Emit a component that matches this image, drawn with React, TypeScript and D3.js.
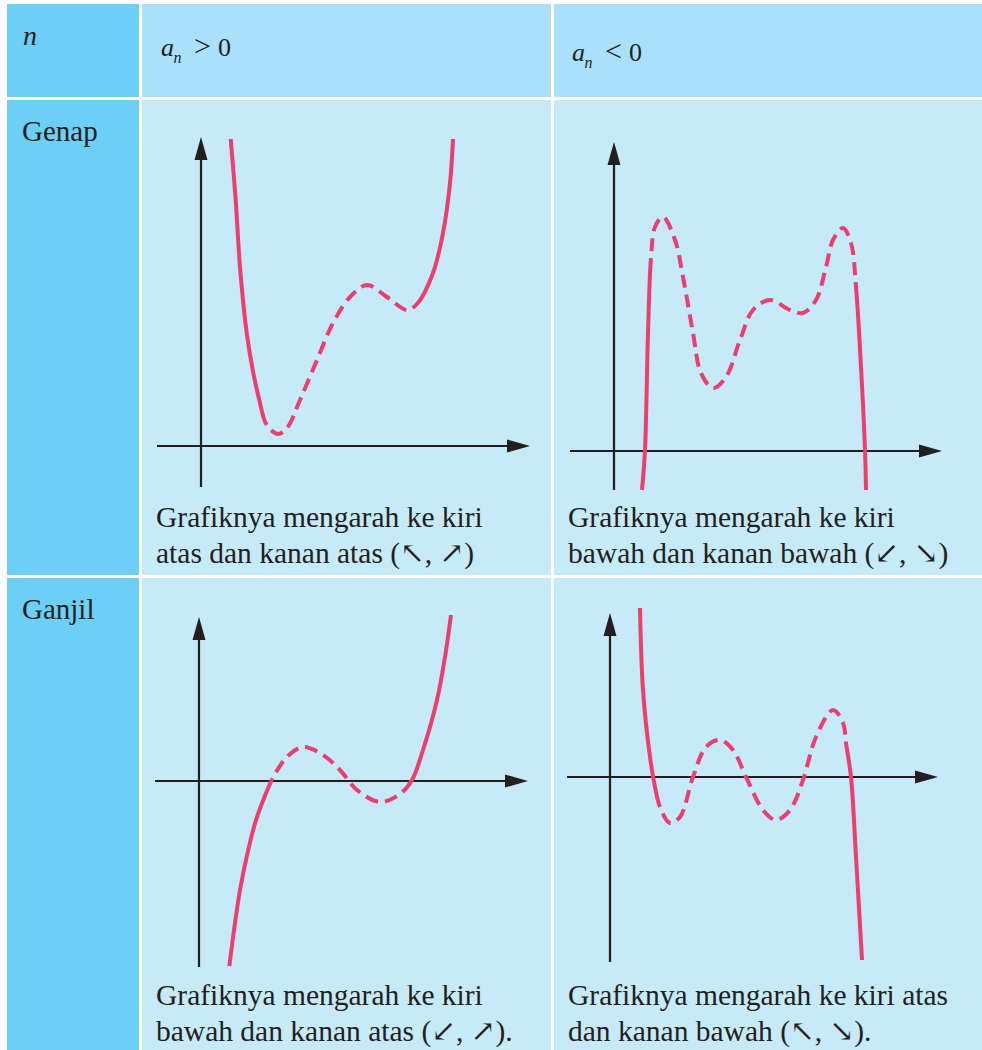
import React, { useEffect, useRef } from 'react';
import * as d3 from 'd3';

type Pt = [number, number];

// ---- table text ----
const rowLabels = ['Genap', 'Ganjil'];
const headerRel = ['>', '<'];
const captions: string[][] = [
  ['Grafiknya mengarah ke kiri', 'atas dan kanan atas (↖, ↗)'],
  ['Grafiknya mengarah ke kiri', 'bawah dan kanan bawah (↙, ↘)'],
  ['Grafiknya mengarah ke kiri', 'bawah dan kanan atas (↙, ↗).'],
  ['Grafiknya mengarah ke kiri atas', 'dan kanan bawah (↖, ↘).'],
];

// ---- curve data (units from the axes origin) ----
// even degree, a_n > 0
const evenPosSolidA: Pt[] = [[2.97, 30.7], [3.47, 24.6], [3.9, 17.9], [4.57, 11.3], [5.23, 7.3], [5.83, 4.6], [6.57, 2.1]];
const evenPosDashed: Pt[] = [[6.57, 2.1], [7.7, 1.2], [8.6, 1.8], [9.9, 4.6], [11.6, 8.6], [13.2, 12.3], [14.9, 14.9], [16.6, 16.1], [18.6, 14.9], [20.6, 13.6], [21.6, 14.2]];
const evenPosSolidB: Pt[] = [[21.6, 14.2], [23.2, 17.3], [24.2, 21.3], [24.9, 26.3], [25.2, 30.7]];

// even degree, a_n < 0
const evenNegSolidA: Pt[] = [[2.8, -3.9], [3.1, 0.1], [3.4, 11.8], [3.7, 19.3]];
const evenNegDashed: Pt[] = [[3.7, 19.3], [4.1, 22.4], [4.9, 23.4], [6.1, 21.1], [6.9, 17.4], [7.9, 11.8], [8.7, 7.8], [9.9, 6.3], [11.2, 7.4], [12.6, 11.1], [13.9, 14.1], [15.6, 15.1], [17.6, 14.1], [18.9, 13.8], [20.2, 15.1], [21.2, 18.4], [21.9, 21.1], [22.9, 22.3], [23.7, 20.8], [24.2, 16.4]];
const evenNegSolidB: Pt[] = [[24.2, 16.4], [24.7, 8.4], [25.1, 0.1], [25.2, -3.9]];

// odd degree, a_n > 0
const oddPosSolidA: Pt[] = [[3.03, -18.5], [3.6, -14.2], [4.1, -10.9], [4.77, -7.57], [5.6, -4.23], [6.43, -1.9], [7.37, 0.27]];
const oddPosDashed: Pt[] = [[7.37, 0.27], [8.8, 2.4], [10.4, 3.4], [12.4, 2.6], [14.1, 1.1], [15.8, -0.9], [18.1, -2.1], [20.1, -1.3], [21.3, 0.1]];
const oddPosSolidB: Pt[] = [[21.3, 0.1], [22.4, 3.1], [23.8, 8.1], [24.6, 12.4], [25.2, 16.6]];

// odd degree, a_n < 0
const oddNegSolidA: Pt[] = [[3.0, 16.9], [3.3, 8.7], [4.0, 2.0], [4.5, -1.0], [5.0, -3.0]];
const oddNegDashed: Pt[] = [[5.0, -3.0], [6.0, -4.6], [7.0, -4.0], [8.3, 0.0], [9.6, 3.0], [11.0, 3.7], [12.3, 2.7], [13.6, 0.0], [15.3, -3.3], [16.6, -4.3], [18.0, -3.3], [19.3, -0.3], [20.6, 4.0], [22.3, 6.7], [23.3, 5.4], [23.6, 3.4]];
const oddNegSolidB: Pt[] = [[23.6, 3.4], [24.1, 0.0], [24.6, -8.0], [25.2, -18.3]];

// axis extents per panel
const evenPosX: Pt = [-4.4, 32.9];
const evenPosY: Pt = [-4.1, 30.9];
const evenNegX: Pt = [-4.4, 32.8];
const evenNegY: Pt = [-3.9, 30.9];
const oddPosX: Pt = [-4.4, 32.9];
const oddPosY: Pt = [-18.6, 16.4];
const oddNegX: Pt = [-4.3, 32.8];
const oddNegY: Pt = [-18.5, 16.4];

const W = 982;
const H = 1050;
const PINK = '#ee3e70';
const INK = '#231f20';
const FONT = "'Liberation Serif', 'DejaVu Serif', serif";

const App = () => {
  const svgRef = useRef<SVGSVGElement | null>(null);

  useEffect(() => {
    if (!svgRef.current) return;
    const svg = d3.select(svgRef.current);
    svg.selectAll('*').remove();

    // table background
    const cols = [
      { x: 7, w: 132 },
      { x: 142, w: 409 },
      { x: 554, w: 428 },
    ];
    const rows = [
      { y: 4, h: 93 },
      { y: 100, h: 475 },
      { y: 578, h: 472 },
    ];
    rows.forEach((r, ri) => {
      cols.forEach((c, ci) => {
        const fill = ci === 0 ? '#6dcff5' : ri === 0 ? '#aae0fa' : '#c7eaf8';
        svg.append('rect').attr('x', c.x).attr('y', r.y).attr('width', c.w).attr('height', r.h).attr('fill', fill);
      });
    });

    // header
    svg.append('text')
      .attr('x', 23).attr('y', 45)
      .style('font-family', FONT).attr('font-style', 'italic').attr('font-size', 28)
      .attr('fill', INK).text('n');

    const headPos = [{ x: 161, base: 56 }, { x: 572, base: 61 }];
    headPos.forEach((h, i) => {
      const t = svg.append('text').style('font-family', FONT).attr('fill', INK);
      t.append('tspan').attr('x', h.x).attr('y', h.base).attr('font-style', 'italic').attr('font-size', 26).text('a');
      t.append('tspan').attr('x', h.x + 12.5).attr('y', h.base + 7).attr('font-style', 'italic').attr('font-size', 16).text('n');
      t.append('tspan').attr('x', h.x + 33).attr('y', h.base).attr('font-size', 30).text(headerRel[i]);
      t.append('tspan').attr('x', h.x + 57).attr('y', h.base).attr('font-size', 26).text('0');
    });

    // row labels
    rowLabels.forEach((lab, i) => {
      svg.append('text')
        .attr('x', 22).attr('y', rows[i + 1].y + 41)
        .style('font-family', FONT).attr('font-size', 29)
        .attr('fill', INK).text(lab);
    });

    // captions
    const capPos = [
      { x: 156, y: 527 }, { x: 568, y: 527 },
      { x: 156, y: 1005 }, { x: 568, y: 1005 },
    ];
    captions.forEach((lines, i) => {
      lines.forEach((line, li) => {
        svg.append('text')
          .attr('x', capPos[i].x).attr('y', capPos[i].y + li * 35.5)
          .style('font-family', FONT).attr('font-size', 29.5)
          .attr('fill', INK).text(line);
      });
    });

    // graph panels
    const panels = [
      { ox: 201, oy: 446, xd: evenPosX, yd: evenPosY, segs: [evenPosSolidA, evenPosDashed, evenPosSolidB] },
      { ox: 614, oy: 451, xd: evenNegX, yd: evenNegY, segs: [evenNegSolidA, evenNegDashed, evenNegSolidB] },
      { ox: 199, oy: 781, xd: oddPosX, yd: oddPosY, segs: [oddPosSolidA, oddPosDashed, oddPosSolidB] },
      { ox: 610, oy: 777, xd: oddNegX, yd: oddNegY, segs: [oddNegSolidA, oddNegDashed, oddNegSolidB] },
    ];
    const unit = 10;
    const arrowLen = 23;
    const arrowHalf = 6.5;

    panels.forEach(p => {
      const x = d3.scaleLinear().domain(p.xd).range([p.ox + p.xd[0] * unit, p.ox + p.xd[1] * unit]);
      const y = d3.scaleLinear().domain(p.yd).range([p.oy - p.yd[0] * unit, p.oy - p.yd[1] * unit]);
      const g = svg.append('g');

      // x axis
      const xEnd = x(p.xd[1]);
      g.append('line')
        .attr('x1', x(p.xd[0])).attr('x2', xEnd - arrowLen + 2)
        .attr('y1', y(0)).attr('y2', y(0))
        .attr('stroke', INK).attr('stroke-width', 2.2);
      g.append('path')
        .attr('d', `M${xEnd},${y(0)} L${xEnd - arrowLen},${y(0) - arrowHalf} L${xEnd - arrowLen},${y(0) + arrowHalf} Z`)
        .attr('fill', INK);

      // y axis
      const yEnd = y(p.yd[1]);
      g.append('line')
        .attr('x1', x(0)).attr('x2', x(0))
        .attr('y1', y(p.yd[0])).attr('y2', yEnd + arrowLen - 2)
        .attr('stroke', INK).attr('stroke-width', 2.2);
      g.append('path')
        .attr('d', `M${x(0)},${yEnd} L${x(0) - arrowHalf},${yEnd + arrowLen} L${x(0) + arrowHalf},${yEnd + arrowLen} Z`)
        .attr('fill', INK);

      const line = d3.line<Pt>()
        .x(d => x(d[0]))
        .y(d => y(d[1]))
        .curve(d3.curveCatmullRom.alpha(0.5));

      // one smooth path; solid / dashed / solid via a computed dash array
      const [sa, da, sb] = p.segs;
      const full = [...sa, ...da.slice(1), ...sb.slice(1)];
      const path = g.append('path')
        .attr('d', line(full))
        .attr('fill', 'none')
        .attr('stroke', PINK)
        .attr('stroke-width', 4);

      const node = path.node() as SVGPathElement;
      const total = node.getTotalLength();
      const lengthAt = (pt: Pt) => {
        const px = x(pt[0]);
        const py = y(pt[1]);
        let best = 0;
        let bd = Infinity;
        for (let l = 0; l <= total; l += 0.5) {
          const q = node.getPointAtLength(l);
          const dd = (q.x - px) ** 2 + (q.y - py) ** 2;
          if (dd < bd) { bd = dd; best = l; }
        }
        return best;
      };
      const l1 = lengthAt(sa[sa.length - 1]);
      const l2 = lengthAt(da[da.length - 1]);
      const dash = 13;
      const gap = 7;
      const arr: number[] = [l1];
      let pos = l1;
      while (l2 - pos > gap + dash + gap * 0.5) {
        arr.push(gap, dash);
        pos += gap + dash;
      }
      arr.push(Math.max(0, Math.min(gap, l2 - pos)), total, 0);
      path.attr('stroke-dasharray', arr.join(' '));
    });
  }, []);

  return (
    <svg
      ref={svgRef}
      width={W}
      height={H}
      style={{ position: 'absolute', left: 0, top: 0, background: '#fff' }}
    />
  );
};

export default App;
